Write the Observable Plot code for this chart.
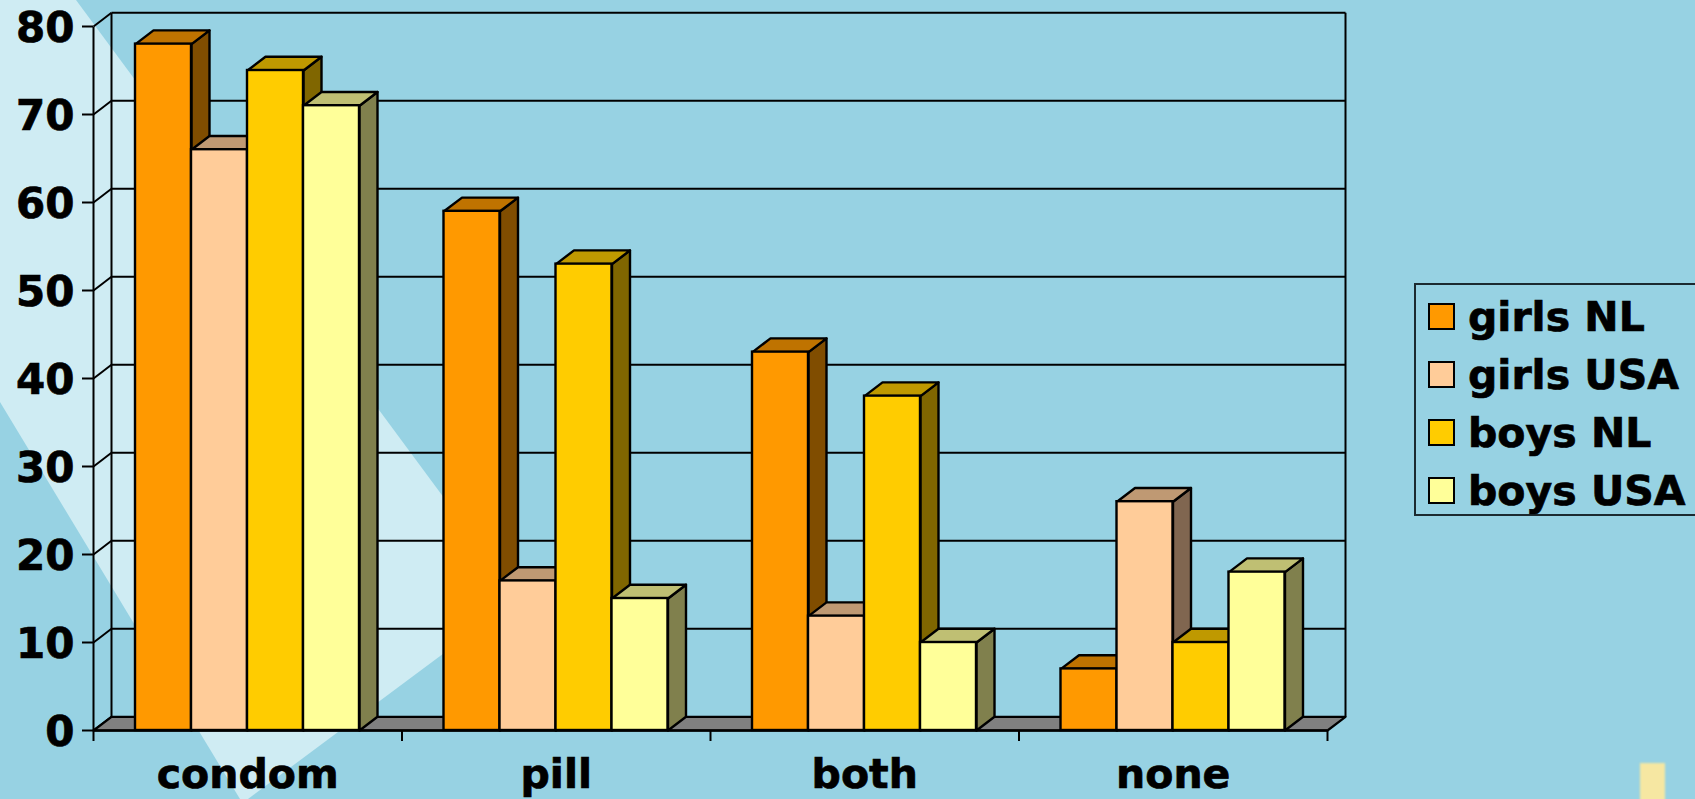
<!DOCTYPE html>
<html>
<head>
<meta charset="utf-8">
<script src="https://cdn.jsdelivr.net/npm/d3@7"></script>
<script src="https://cdn.jsdelivr.net/npm/@observablehq/plot@0.6"></script>
<style>
html,body{margin:0;padding:0;width:1695px;height:799px;overflow:hidden;background:#97d2e3;}
#stage{position:relative;width:1695px;height:799px;overflow:hidden;font-family:"DejaVu Sans",sans-serif;}
#light{position:absolute;left:0;top:0;width:1695px;height:799px;background:#cfecf3;
  clip-path:polygon(0 0,76px 0,518px 598px,248px 799px,240px 799px,0 402px);}
#note{position:absolute;left:1640px;top:763px;width:25px;height:40px;background:#f6e7a2;filter:blur(.8px);}
#chart{position:absolute;left:0;top:0;}
#chart text{stroke:#000;stroke-width:.7px;}
#legend{position:absolute;left:1414px;top:283px;width:300px;height:229px;border:2.5px solid #1c2a30;box-sizing:content-box;}
.row{position:absolute;left:12px;height:58px;}
.sw{position:absolute;left:0;top:0;width:23px;height:23px;border:2.5px solid #000;}
.tx{position:absolute;left:40px;top:-10px;font-size:41px;font-weight:bold;color:#000;white-space:nowrap;line-height:48px;-webkit-text-stroke:.7px #000;}
</style>
</head>
<body>
<div id="stage">
  <div id="light"></div>
  <div id="note"></div>
  <div id="chart"></div>
  <div id="legend"></div>
</div>
<script>
const categories = ["condom", "pill", "both", "none"];
const seriesNames = ["girls NL", "girls USA", "boys NL", "boys USA"];
const girlsNL  = [78, 59, 43, 7];
const girlsUSA = [66, 17, 13, 26];
const boysNL   = [75, 53, 38, 10];
const boysUSA  = [71, 15, 10, 18];
const frontColors = ["#ff9900", "#ffcc99", "#ffcc00", "#ffff99"];
const topColors   = ["#bf7300", "#bf9973", "#bf9900", "#bfbf73"];
const sideColors  = ["#804d00", "#806650", "#806600", "#80804d"];
const yTicks = [0, 10, 20, 30, 40, 50, 60, 70, 80];
const allValues = [girlsNL, girlsUSA, boysNL, boysUSA];

// layout in scale units
const W = 1695, H = 799;
const left = 93, right = 1327, top_ = 26, bottom = 730;
const pxX = 4 / (right - left), pxY = 80 / (bottom - top_);
const depthX = 18 * pxX, depthY = 13.7 * pxY;
const barW = 56 * pxX, pad = 42 * pxX;

const fronts = [], faces = [];
let id = 0;
categories.forEach((c, ci) => {
  allValues.forEach((vals, si) => {
    const v = vals[ci];
    const x1 = ci + pad + si * barW, x2 = x1 + barW;
    fronts.push({x1, x2, y1: 0, y2: v, fill: frontColors[si], cat: c, series: seriesNames[si]});
    const side = [[x2, 0], [x2 + depthX, depthY], [x2 + depthX, v + depthY], [x2, v], [x2, 0]];
    const roof = [[x1, v], [x1 + depthX, v + depthY], [x2 + depthX, v + depthY], [x2, v], [x1, v]];
    side.forEach(p => faces.push({x: p[0], y: p[1], z: id, fill: sideColors[si]})); id++;
    roof.forEach(p => faces.push({x: p[0], y: p[1], z: id, fill: topColors[si]})); id++;
  });
});
const floor = [[0, 0], [depthX, depthY], [4 + depthX, depthY], [4, 0], [0, 0]].map(p => ({x: p[0], y: p[1]}));

const font = {fontFamily: '"DejaVu Sans", sans-serif', fontWeight: "bold", fontSize: 42, fill: "#000"};
const wall = {stroke: "#000", strokeWidth: 2};

const chart = Plot.plot({
  width: W, height: H,
  marginLeft: left, marginRight: W - right, marginTop: top_, marginBottom: H - bottom,
  style: {background: "transparent", overflow: "visible"},
  x: {type: "linear", domain: [0, 4]},
  y: {type: "linear", domain: [0, 80]},
  color: {type: "identity"},
  marks: [
    // walls
    Plot.link(yTicks.slice(1), {x1: depthX, x2: 4 + depthX, y1: d => d + depthY, y2: d => d + depthY, ...wall}),
    Plot.link(yTicks, {x1: 0, x2: depthX, y1: d => d, y2: d => d + depthY, ...wall}),
    Plot.link([0], {x1: depthX, x2: depthX, y1: depthY, y2: 80 + depthY, ...wall}),
    Plot.link([0], {x1: 4 + depthX, x2: 4 + depthX, y1: depthY, y2: 80 + depthY, ...wall}),
    Plot.link([0], {x1: 0, x2: 0, y1: 0, y2: 80, ...wall}),
    // floor
    Plot.line(floor, {x: "x", y: "y", fill: "#808080", stroke: "#000", strokeWidth: 2.2, curve: "linear"}),
    // bar sides and tops
    Plot.line(faces, {x: "x", y: "y", z: "z", fill: "fill", stroke: "#000", strokeWidth: 2.4, curve: "linear", strokeLinejoin: "round"}),
    // bar fronts
    Plot.rect(fronts, {x1: "x1", x2: "x2", y1: "y1", y2: "y2", fill: "fill", stroke: "#000", strokeWidth: 2.4}),
    // axes
    Plot.ruleY([0], {stroke: "#000", strokeWidth: 2.4}),
    Plot.axisY({ticks: yTicks, tickSize: 11, label: null, stroke: "#000", strokeWidth: 2, tickFormat: () => ""}),
    Plot.axisY({ticks: yTicks, tickSize: 0, tickPadding: 19, dy: 2, label: null, tickFormat: d3.format("d"), ...font}),
    Plot.axisX({ticks: [0, 1, 2, 3, 4], tickSize: 11, label: null, stroke: "#000", strokeWidth: 2, tickFormat: () => ""}),
    Plot.axisX({ticks: [0.5, 1.5, 2.5, 3.5], tickSize: 0, tickPadding: 28, label: null, tickFormat: d => categories[d - 0.5], ...font, fontSize: 41})
  ]
});
document.getElementById("chart").appendChild(chart);

// legend
const legend = document.getElementById("legend");
seriesNames.forEach((name, i) => {
  const row = document.createElement("div");
  row.className = "row";
  row.style.top = (18 + i * 58) + "px";
  const sw = document.createElement("div");
  sw.className = "sw";
  sw.style.background = frontColors[i];
  const tx = document.createElement("div");
  tx.className = "tx";
  tx.textContent = name;
  row.append(sw, tx);
  legend.append(row);
});
</script>
</body>
</html>
